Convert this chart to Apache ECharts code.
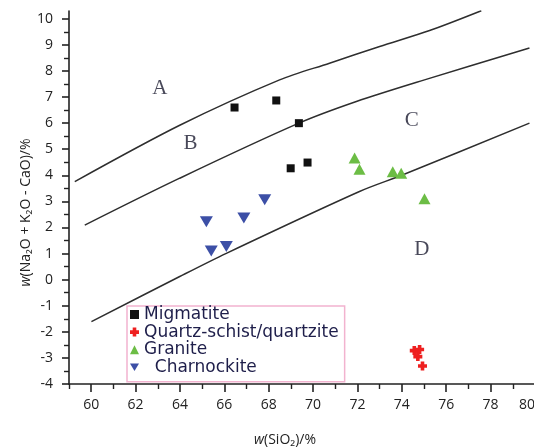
<!DOCTYPE html>
<html>
<head>
<meta charset="utf-8">
<script src="https://cdn.jsdelivr.net/npm/echarts@6/dist/echarts.min.js"></script>
<style>
html,body{margin:0;padding:0;background:#fff;}
#c{width:534px;height:447px;}
</style>
</head>
<body>
<div id="c"></div>
<script>
// ---- data ----
const seriesNames = ['Migmatite', 'Quartz-schist/quartzite', 'Granite', 'Charnockite'];

const migmatiteX = [66.46, 68.34, 69.36, 68.99, 69.75];
const migmatiteY = [6.60, 6.87, 6.00, 4.27, 4.49];

const quartzX = [74.56, 74.80, 74.72, 74.93];
const quartzY = [-2.72, -2.68, -2.95, -3.31];

const graniteX = [71.87, 72.09, 73.59, 73.97, 75.02];
const graniteY = [4.66, 4.23, 4.14, 4.08, 3.10];

const charnockiteX = [65.19, 66.88, 67.82, 65.41, 66.09];
const charnockiteY = [2.22, 2.36, 3.06, 1.10, 1.27];

// boundary curves
const lineABx = [59.26, 63.99, 68.49, 70.74, 73.00, 75.25, 77.58];
const lineABy = [3.76, 5.92, 7.66, 8.30, 8.94, 9.55, 10.31];
const lineBCx = [59.71, 63.99, 69.36, 71.95, 75.02, 79.75];
const lineBCy = [2.09, 3.89, 6.00, 6.83, 7.66, 8.88];
const lineCDx = [60.01, 63.99, 66.09, 72.09, 74.05, 79.75];
const lineCDy = [-1.61, 0.12, 1.01, 3.38, 4.02, 6.00];

// region labels
const regionNames = ['A', 'B', 'C', 'D'];
const regionX = [63.09, 64.47, 74.45, 74.90];
const regionY = [7.34, 5.23, 6.12, 1.14];

// axis ticks
const xMajorTicks = [60, 62, 64, 66, 68, 70, 72, 74, 76, 78, 80];
const xMinorTicks = [59, 61, 63, 65, 67, 69, 71, 73, 75, 77, 79];
const yMajorTicks = [-4, -3, -2, -1, 0, 1, 2, 3, 4, 5, 6, 7, 8, 9, 10];
const yMinorTicks = [-3.5, -2.5, -1.5, -0.5, 0.5, 1.5, 2.5, 3.5, 4.5, 5.5, 6.5, 7.5, 8.5, 9.5];

const zip = (xs, ys) => xs.map((x, i) => [x, ys[i]]);

const axisColor = '#222';
const labelFont = 'Open Sans';
const plusPath = 'path://M3,0h4v3h3v4h-3v3h-4v-3h-3v-4h3z';
const downTri = 'path://M0,0L12,0L6,10Z';

const chart = echarts.init(document.getElementById('c'), null, {renderer: 'canvas'});

const lineSeries = (d) => ({
  type: 'line',
  data: d,
  smooth: 0.3,
  showSymbol: false,
  silent: true,
  lineStyle: {color: '#2e2e2e', width: 1.5},
  z: 1
});

chart.setOption({
  backgroundColor: '#ffffff',
  animation: false,
  grid: {left: 69, top: 11, width: 466, height: 373, containLabel: false, outerBoundsMode: 'none'},
  legend: {
    data: [
      {name: seriesNames[0], icon: 'rect'},
      {name: seriesNames[1], icon: plusPath},
      {name: seriesNames[2], icon: 'triangle'},
      {name: seriesNames[3], icon: downTri}
    ],
    orient: 'vertical',
    left: 127,
    top: 306,
    padding: [0, 6, 6, 3],
    itemGap: 0.6,
    itemWidth: 9,
    itemHeight: 9,
    borderColor: '#f2b3cf',
    borderWidth: 1.5,
    backgroundColor: '#ffffff',
    formatter: function (n) {
      if (n === 'Charnockite') return '  ' + n;
      return n;
    },
    textStyle: {fontFamily: 'DejaVu Sans', fontSize: 17, color: '#1e1e4a', lineHeight: 14}
  },
  xAxis: [{
    type: 'value', min: 59, max: 80, position: 'bottom',
    name: '{it|w}(SiO₂)/%',
    nameLocation: 'middle',
    nameGap: 49,
    nameMoveOverlap: false,
    nameTextStyle: {fontFamily: labelFont, fontSize: 14, color: axisColor, padding: [0, 34, 0, 0],
      rich: {it: {fontStyle: 'italic', fontFamily: labelFont, fontSize: 14, color: axisColor}}},
    axisLine: {show: true, onZero: false, lineStyle: {color: axisColor, width: 1.6}},
    axisTick: {show: true, customValues: xMajorTicks, length: 8, lineStyle: {color: axisColor, width: 1.6}},
    axisLabel: {show: true, customValues: xMajorTicks, margin: 14, fontFamily: labelFont, fontSize: 14, color: axisColor,
      alignMaxLabel: 'right'},
    splitLine: {show: false}
  }, {
    type: 'value', min: 59, max: 80, position: 'bottom',
    axisLine: {show: false, onZero: false},
    axisTick: {show: true, customValues: xMinorTicks, length: 5, lineStyle: {color: axisColor, width: 1.4}},
    axisLabel: {show: false},
    splitLine: {show: false}
  }],
  yAxis: [{
    type: 'value', min: -4, max: 10.3, position: 'left',
    name: '{it|w}(Na₂O + K₂O - CaO)/%',
    nameLocation: 'middle',
    nameGap: 36,
    nameMoveOverlap: false,
    nameTextStyle: {fontFamily: labelFont, fontSize: 14, color: axisColor, padding: [0, 30, 0, 0],
      rich: {it: {fontStyle: 'italic', fontFamily: labelFont, fontSize: 14, color: axisColor}}},
    axisLine: {show: true, onZero: false, lineStyle: {color: axisColor, width: 1.6}},
    axisTick: {show: true, customValues: yMajorTicks, length: 7, lineStyle: {color: axisColor, width: 1.6}},
    axisLabel: {show: true, customValues: yMajorTicks, margin: 16, fontFamily: labelFont, fontSize: 14, color: axisColor},
    splitLine: {show: false}
  }, {
    type: 'value', min: -4, max: 10.3, position: 'left',
    axisLine: {show: false, onZero: false},
    axisTick: {show: true, customValues: yMinorTicks, length: 5, lineStyle: {color: axisColor, width: 1.4}},
    axisLabel: {show: false},
    splitLine: {show: false}
  }],
  series: [
    lineSeries(zip(lineABx, lineABy)),
    lineSeries(zip(lineBCx, lineBCy)),
    lineSeries(zip(lineCDx, lineCDy)),
    {
      type: 'scatter', silent: true, symbolSize: 0, z: 2,
      data: regionNames.map((n, i) => ({name: n, value: [regionX[i], regionY[i]]})),
      label: {show: true, position: 'inside', formatter: '{b}', fontFamily: 'Liberation Serif', fontSize: 21, color: '#1a1a30'}
    },
    {
      name: seriesNames[0], type: 'scatter', symbol: 'rect', symbolSize: 8, z: 5,
      itemStyle: {color: '#111111', opacity: 1},
      data: zip(migmatiteX, migmatiteY)
    },
    {
      name: seriesNames[1], type: 'scatter', symbol: plusPath, symbolSize: 9, z: 5,
      itemStyle: {color: '#ee2020', opacity: 1},
      data: zip(quartzX, quartzY)
    },
    {
      name: seriesNames[2], type: 'scatter', symbol: 'triangle', symbolSize: [12, 11], z: 5,
      itemStyle: {color: '#6cbd45', opacity: 1},
      data: zip(graniteX, graniteY)
    },
    {
      name: seriesNames[3], type: 'scatter', symbol: 'triangle', symbolRotate: 180, symbolSize: [13, 11], z: 5,
      itemStyle: {color: '#3c4fa6', opacity: 1},
      data: zip(charnockiteX, charnockiteY)
    }
  ]
});
</script>
</body>
</html>
